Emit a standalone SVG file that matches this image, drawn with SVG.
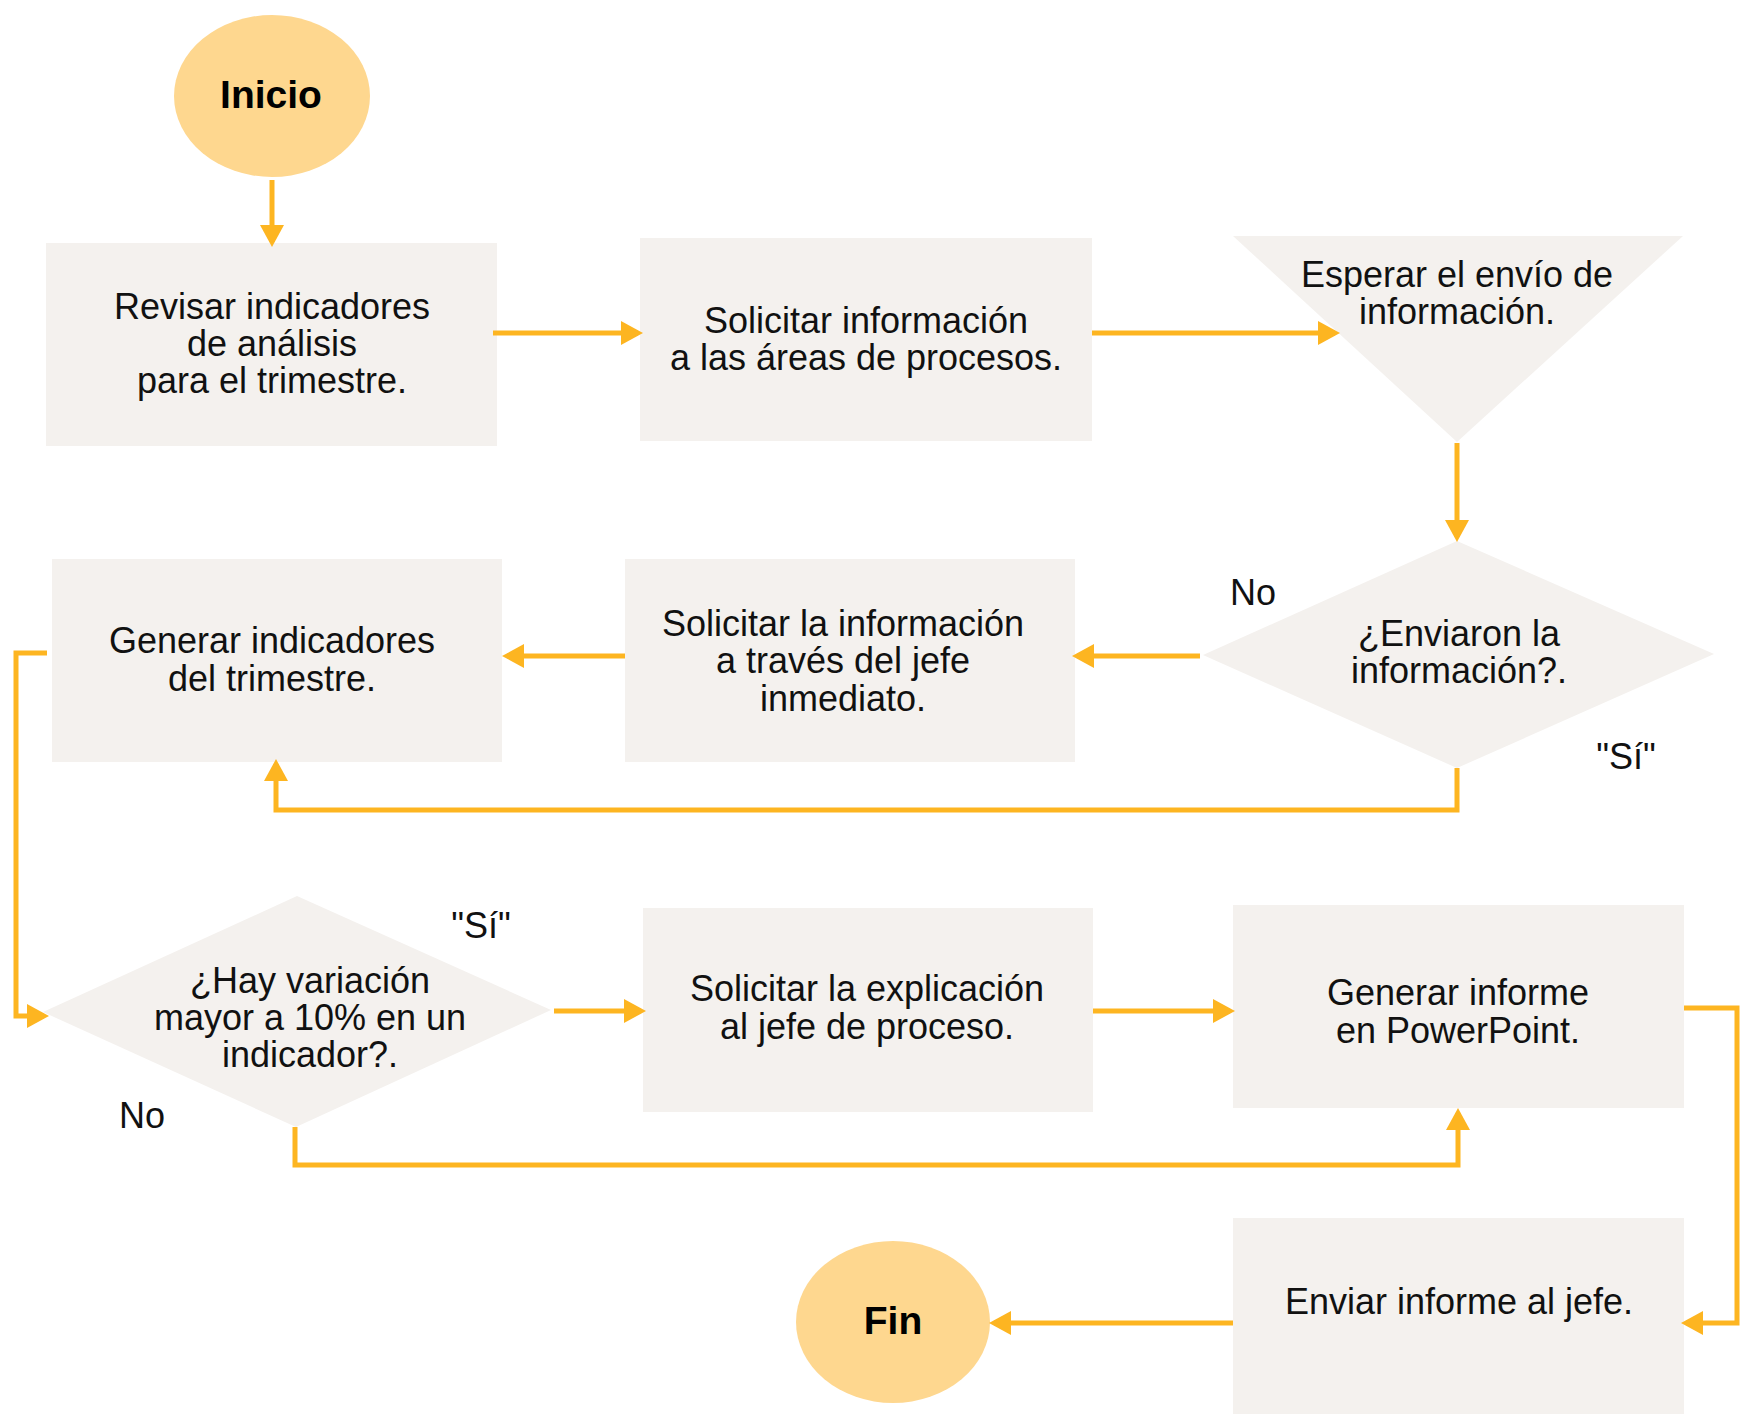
<svg xmlns="http://www.w3.org/2000/svg" width="1751" height="1414" viewBox="0 0 1751 1414">
<style>
.bg{fill:#ffffff}
.term{fill:#FED78F}
.box{fill:#F4F1EE}
.t{font-family:"Liberation Sans",Arial,sans-serif;font-size:36px;fill:#111111;text-anchor:middle}
.tb{font-family:"Liberation Sans",Arial,sans-serif;font-size:39px;font-weight:bold;fill:#000000;text-anchor:middle}
.lbl{font-family:"Liberation Sans",Arial,sans-serif;font-size:36px;fill:#111111;text-anchor:middle}
.c{fill:none;stroke:#FDB521;stroke-width:5;marker-end:url(#ah)}
</style>
<defs>
<marker id="ah" markerUnits="userSpaceOnUse" markerWidth="22" markerHeight="24" refX="17" refY="12" orient="auto">
<path d="M0,0 L22,12 L0,24 z" fill="#FDB521"/>
</marker>
</defs>
<rect class="bg" x="0" y="0" width="1751" height="1414"/>

<g id="inicio">
<ellipse class="term" cx="272" cy="96" rx="98" ry="81"/>
<text class="tb" x="271" y="108">Inicio</text>
</g>

<g id="revisar">
<rect class="box" x="46" y="243" width="451" height="203"/>
<text class="t" x="272" y="319">Revisar indicadores</text>
<text class="t" x="272" y="356">de análisis</text>
<text class="t" x="272" y="393">para el trimestre.</text>
</g>

<g id="solicitar-info">
<rect class="box" x="640" y="238" width="452" height="203"/>
<text class="t" x="866" y="333">Solicitar información</text>
<text class="t" x="866" y="370">a las áreas de procesos.</text>
</g>

<g id="esperar">
<polygon class="box" points="1233,236 1683,236 1457,442"/>
<text class="t" x="1457" y="287">Esperar el envío de</text>
<text class="t" x="1457" y="324">información.</text>
</g>

<g id="enviaron">
<polygon class="box" points="1203,655 1457,541 1714,654 1457,768"/>
<text class="t" x="1459" y="646">¿Enviaron la</text>
<text class="t" x="1459" y="683">información?.</text>
<text class="lbl" x="1253" y="605">No</text>
<text class="lbl" x="1626" y="769">"Sí"</text>
</g>

<g id="solicitar-jefe">
<rect class="box" x="625" y="559" width="450" height="203"/>
<text class="t" x="843" y="636">Solicitar la información</text>
<text class="t" x="843" y="673">a través del jefe</text>
<text class="t" x="843" y="711">inmediato.</text>
</g>

<g id="generar-indicadores">
<rect class="box" x="52" y="559" width="450" height="203"/>
<text class="t" x="272" y="653">Generar indicadores</text>
<text class="t" x="272" y="691">del trimestre.</text>
</g>

<g id="variacion">
<polygon class="box" points="43,1012 297,896 551,1010 296,1127"/>
<text class="t" x="310" y="993">¿Hay variación</text>
<text class="t" x="310" y="1030">mayor a 10% en un</text>
<text class="t" x="310" y="1067">indicador?.</text>
<text class="lbl" x="481" y="938">"Sí"</text>
<text class="lbl" x="142" y="1128">No</text>
</g>

<g id="solicitar-explicacion">
<rect class="box" x="643" y="908" width="450" height="204"/>
<text class="t" x="867" y="1001">Solicitar la explicación</text>
<text class="t" x="867" y="1039">al jefe de proceso.</text>
</g>

<g id="generar-informe">
<rect class="box" x="1233" y="905" width="451" height="203"/>
<text class="t" x="1458" y="1005">Generar informe</text>
<text class="t" x="1458" y="1043">en PowerPoint.</text>
</g>

<g id="enviar-informe">
<rect class="box" x="1233" y="1218" width="451" height="200"/>
<text class="t" x="1459" y="1314">Enviar informe al jefe.</text>
</g>

<g id="fin">
<ellipse class="term" cx="893" cy="1322" rx="97" ry="81"/>
<text class="tb" x="893" y="1334">Fin</text>
</g>

<g id="connectors">
<path class="c" d="M272,180 V242"/>
<path class="c" d="M493,333 H638"/>
<path class="c" d="M1092,333 H1335"/>
<path class="c" d="M1457,443 V537"/>
<path class="c" d="M1200,656 H1077"/>
<path class="c" d="M625,656 H507"/>
<path class="c" d="M1457,768 V810 H276 V764"/>
<path class="c" d="M47,653 H16 V1016 H44"/>
<path class="c" d="M554,1011 H641"/>
<path class="c" d="M1093,1011 H1230"/>
<path class="c" d="M295,1127 V1165 H1458 V1113"/>
<path class="c" d="M1684,1008 H1737 V1323 H1686"/>
<path class="c" d="M1233,1323 H994"/>
</g>
</svg>
